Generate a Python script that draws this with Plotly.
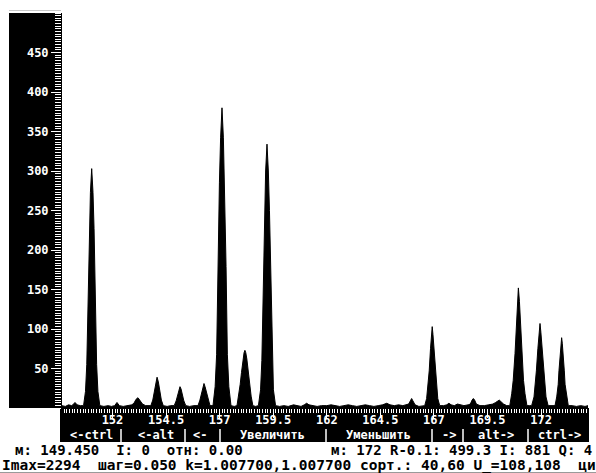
import plotly.graph_objects as go

# ---------------- data ----------------
profile_mass = [
    149.64, 149.80, 149.95, 150.10, 150.15, 150.25, 150.35, 150.50,
    150.65, 150.74, 150.80, 150.86, 150.92, 150.97, 151.03, 151.09, 151.14, 151.20, 151.26, 151.32, 151.41,
    151.60, 151.80, 151.95, 152.10, 152.21, 152.32, 152.50, 152.70, 152.90,
    153.00, 153.10, 153.19, 153.28, 153.40, 153.55, 153.70,
    153.79, 153.88, 153.95, 154.02, 154.08, 154.14, 154.21, 154.28, 154.37,
    154.55, 154.72,
    154.88, 154.97, 155.04, 155.10, 155.15, 155.20, 155.26, 155.33, 155.42,
    155.60, 155.80,
    155.99, 156.08, 156.15, 156.22, 156.27, 156.32, 156.39, 156.46, 156.55,
    156.69, 156.79, 156.86, 156.92, 156.99, 157.045, 157.11, 157.175, 157.23, 157.30, 157.36, 157.43, 157.53,
    157.68,
    157.81, 157.89, 157.96, 158.02, 158.09, 158.14, 158.18, 158.22, 158.27, 158.34, 158.40, 158.47, 158.55,
    158.68,
    158.81, 158.91, 158.97, 159.03, 159.095, 159.147, 159.21, 159.273, 159.325, 159.39, 159.45, 159.51, 159.61,
    159.80, 160.00, 160.20, 160.45, 160.60, 160.80, 160.95, 161.06, 161.17, 161.35, 161.55, 161.75,
    162.00, 162.20, 162.40, 162.60, 162.80, 163.00, 163.20, 163.40, 163.60, 163.80, 164.00, 164.20,
    164.40, 164.60, 164.80, 164.95, 165.15, 165.35, 165.55, 165.72,
    165.82, 165.90, 165.96, 166.02, 166.12, 166.30, 166.45,
    166.57, 166.66, 166.72, 166.78, 166.84, 166.885, 166.92, 166.955, 167.00, 167.06, 167.12, 167.18, 167.27,
    167.45, 167.60, 167.70, 167.80, 167.95, 168.10, 168.22, 168.40, 168.60,
    168.70, 168.78, 168.84, 168.90, 168.98, 169.15, 169.35, 169.55, 169.75,
    169.88, 169.97, 170.05, 170.13, 170.25, 170.40,
    170.54, 170.63, 170.70, 170.785, 170.84, 170.89, 170.94, 170.99, 171.04, 171.095, 171.18, 171.25, 171.34,
    171.45,
    171.56, 171.67, 171.72, 171.78, 171.85, 171.91, 171.95, 171.99, 172.05, 172.12, 172.18, 172.23, 172.33,
    172.50,
    172.65, 172.73, 172.80, 172.835, 172.89, 172.93, 172.96, 172.99, 173.03, 173.085, 173.12, 173.19, 173.27,
    173.45, 173.65, 173.85, 174.05, 174.19,
]
profile_intensity = [
    3, 2, 4, 3, 4, 7, 4, 3,
    3, 21, 55, 142, 227, 273, 303, 273, 227, 142, 55, 21, 3,
    2, 3, 2, 3, 7, 3, 2, 3, 4,
    6, 11, 13, 10, 5, 3, 3,
    3, 10, 22, 33, 39, 33, 22, 10, 3,
    2, 3,
    3, 9, 17, 24, 27, 24, 17, 9, 3,
    2, 3,
    3, 10, 19, 27, 31, 27, 19, 10, 3,
    3, 27, 68, 179, 285, 342, 380, 342, 285, 179, 68, 27, 3,
    2,
    3, 15, 30, 45, 62, 70, 73, 70, 62, 45, 30, 15, 3,
    2,
    3, 23, 60, 157, 250, 300, 334, 300, 250, 157, 60, 23, 3,
    2, 3, 2, 4, 3, 2, 4, 6, 4, 3, 2, 3,
    3, 4, 3, 2, 3, 4, 3, 2, 3, 4, 3, 2,
    3, 4, 6, 4, 3, 4, 3, 4,
    5, 9, 12, 9, 4, 2, 3,
    3, 12, 28, 47, 75, 93, 103, 93, 75, 47, 28, 12, 3,
    3, 4, 6, 4, 3, 5, 4, 3, 4,
    5, 10, 12, 10, 5, 3, 3, 4, 5,
    7, 9, 10, 8, 5, 3,
    3, 18, 35, 69, 105, 135, 152, 135, 105, 69, 35, 18, 3,
    3,
    3, 14, 28, 47, 75, 96, 107, 96, 75, 47, 28, 14, 3,
    3,
    3, 14, 30, 47, 70, 82, 89, 82, 70, 47, 30, 14, 3,
    3, 2, 3, 2, 3,
]

y_tick_values = [50, 100, 150, 200, 250, 300, 350, 400, 450]
x_tick_values = [152, 154.5, 157, 159.5, 162, 164.5, 167, 169.5, 172]
x_tick_labels = ["152", "154.5", "157", "159.5", "162", "164.5", "167", "169.5", "172"]

button_labels = ["<-ctrl", "<-alt", "<-", "Увеличить", "Уменьшить", "->", "alt->", "ctrl->"]
status_left = "м: 149.450  I: 0  отн: 0.00"
status_right = "м: 172 R-0.1: 499.3 I: 881 Q: 4"
status_bottom = "Imax=2294  шаг=0.050 k=1.007700,1.007700 сорт.: 40,60 U_=108,108  ци"

# ---------------- layout geometry (pixels) ----------------
W, H = 596, 473
L, R, T, B = 62, 588, 13, 408
X_RANGE = [149.644, 174.19]
Y_RANGE = [0, 500]

def fx(px):
    return (px - L) / (R - L)

def fy(py):
    return (B - py) / (B - T)

MONO = "DejaVu Sans Mono"

fig = go.Figure()
fig.add_trace(go.Scatter(
    x=profile_mass, y=profile_intensity, mode="lines",
    line=dict(color="black", width=1), fill="tozeroy", fillcolor="black",
    hoverinfo="skip", showlegend=False,
))

shapes = [
    # left black panel
    dict(type="rect", xref="paper", yref="paper", x0=fx(9), x1=fx(62), y0=fy(408), y1=fy(13),
         fillcolor="black", line=dict(width=0), layer="below"),
    # thin grey line above the panel
    dict(type="line", xref="paper", yref="paper", x0=fx(9), x1=fx(61), y0=fy(10.5), y1=fy(10.5),
         line=dict(color="#c8c8c8", width=1), layer="below"),
    # bottom black strip (axis + buttons)
    dict(type="rect", xref="paper", yref="paper", x0=fx(60), x1=fx(589), y0=fy(442), y1=fy(408),
         fillcolor="black", line=dict(width=0), layer="below"),
    # grey line at bottom edge
    dict(type="line", xref="paper", yref="paper", x0=fx(0), x1=fx(596), y0=fy(472.5), y1=fy(472.5),
         line=dict(color="#9a9a9a", width=1), layer="below"),
]
for sx in [121, 185, 220, 326, 432, 463, 528]:
    shapes.append(dict(type="line", xref="paper", yref="paper", x0=fx(sx), x1=fx(sx),
                       y0=fy(442), y1=fy(429), line=dict(color="white", width=1.5), layer="above"))

annotations = []
for lab, cx in zip(button_labels, [91, 156, 200, 272, 378, 449, 496, 559]):
    annotations.append(dict(text=lab, xref="paper", yref="paper", x=fx(cx), y=fy(435.5),
                            xanchor="center", yanchor="middle", showarrow=False,
                            font=dict(family=MONO, size=12, color="white", weight="bold")))
annotations.append(dict(text=status_left, xref="paper", yref="paper", x=fx(13), y=fy(450.5),
                        xanchor="left", yanchor="middle", showarrow=False,
                        font=dict(family=MONO, size=14, color="black", weight="bold")))
annotations.append(dict(text=status_right, xref="paper", yref="paper", x=fx(329), y=fy(450.5),
                        xanchor="left", yanchor="middle", showarrow=False,
                        font=dict(family=MONO, size=14, color="black", weight="bold")))
annotations.append(dict(text=status_bottom, xref="paper", yref="paper", x=fx(0), y=fy(465.5),
                        xanchor="left", yanchor="middle", showarrow=False,
                        font=dict(family=MONO, size=14.5, color="black", weight="bold")))

fig.update_layout(
    width=W, height=H,
    margin=dict(l=L, r=W - R, t=T, b=H - B, pad=0),
    paper_bgcolor="white", plot_bgcolor="white",
    showlegend=False,
    shapes=shapes, annotations=annotations,
    xaxis=dict(
        range=X_RANGE, tickmode="array", tickvals=x_tick_values, ticktext=x_tick_labels,
        ticks="outside", ticklen=9, tickwidth=1, tickcolor="white", ticklabelstandoff=-8,
        tickfont=dict(family=MONO, size=12, color="white", weight="bold"),
        showgrid=False, zeroline=False, showline=False, fixedrange=True,
        minor=dict(ticks="outside", dtick=0.125, tick0=152, ticklen=4, tickwidth=1,
                   tickcolor="white", showgrid=False),
    ),
    yaxis=dict(
        range=Y_RANGE, tickmode="array", tickvals=y_tick_values,
        ticks="outside", ticklen=10, tickwidth=1, tickcolor="white",
        tickfont=dict(family=MONO, size=12, color="white", weight="bold"),
        showgrid=False, zeroline=False, showline=False, fixedrange=True,
        minor=dict(ticks="outside", dtick=10 / 3, tick0=0, ticklen=6, tickwidth=1,
                   tickcolor="white", showgrid=False),
    ),
)

fig.write_html(
    "out.html",
    config={"displayModeBar": False},
    post_script="document.body.style.margin='0';document.body.style.overflow='hidden';",
)
